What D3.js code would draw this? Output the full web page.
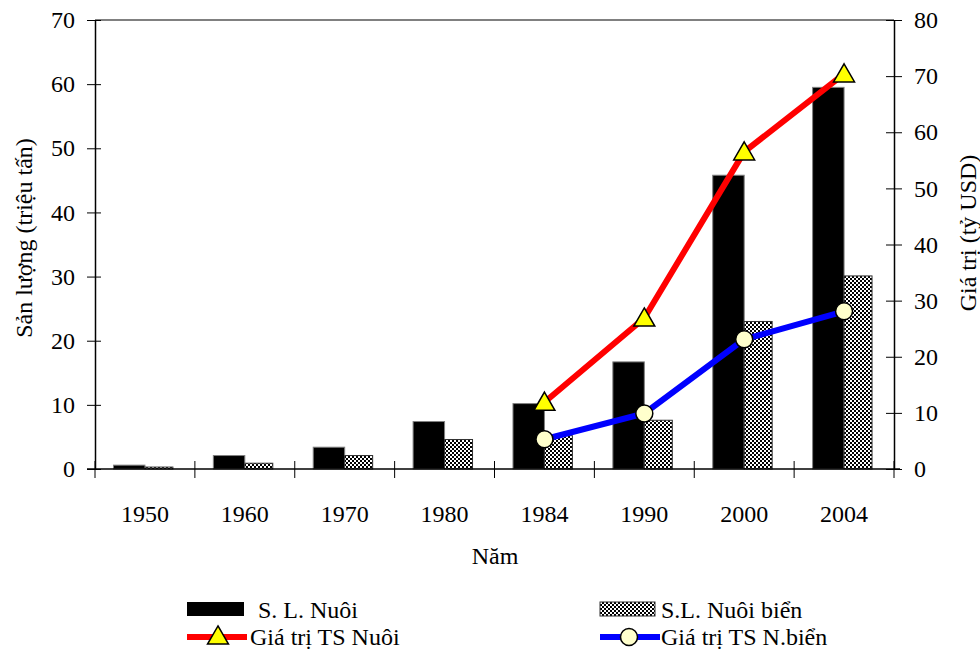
<!DOCTYPE html>
<html>
<head>
<meta charset="utf-8">
<script src="https://cdn.jsdelivr.net/npm/d3@7"></script>
</head>
<body style="margin:0;background:#fff">
<svg id="chart" width="980" height="651" font-family="Liberation Serif"></svg>
<script>
// Sản lượng nuôi trồng thủy sản (triệu tấn) và giá trị (tỷ USD)
const years = ["1950", "1960", "1970", "1980", "1984", "1990", "2000", "2004"];
const slNuoi = [0.6, 2.1, 3.4, 7.4, 10.2, 16.7, 45.8, 59.5];
const slNuoiBien = [0.3, 0.9, 2.1, 4.6, 5.2, 7.6, 23.0, 30.1];
const valueYears = ["1984", "1990", "2000", "2004"];
const gtNuoi = [11.9, 26.9, 56.5, 70.4];
const gtNuoiBien = [5.3, 9.9, 23.1, 28.1];
const leftTicks = [0, 10, 20, 30, 40, 50, 60, 70];
const rightTicks = [0, 10, 20, 30, 40, 50, 60, 70, 80];

const FONT = "Liberation Serif";
const svg = d3.select("#chart");
const plot = { left: 95, right: 894, top: 20, bottom: 469 };

const x = d3.scaleBand().domain(years).range([plot.left, plot.right]);
const yL = d3.scaleLinear().domain([0, 70]).range([plot.bottom, plot.top]);
const yR = d3.scaleLinear().domain([0, 80]).range([plot.bottom, plot.top]);
const bw = x.bandwidth();

// checkerboard fill for the sea-farming bars
const defs = svg.append("defs");
const pat = defs.append("pattern").attr("id", "checker")
  .attr("patternUnits", "userSpaceOnUse").attr("width", 4).attr("height", 4);
pat.append("rect").attr("width", 4).attr("height", 4).attr("fill", "#fff");
pat.append("rect").attr("width", 2).attr("height", 2).attr("fill", "#000");
pat.append("rect").attr("x", 2).attr("y", 2).attr("width", 2).attr("height", 2).attr("fill", "#000");

// plot frame top edge
svg.append("line")
  .attr("x1", plot.left).attr("x2", plot.right)
  .attr("y1", plot.top).attr("y2", plot.top)
  .attr("stroke", "#808080").attr("stroke-width", 2);

// bars
svg.append("g").selectAll("rect").data(years).join("rect")
  .attr("x", d => x(d) + bw * 0.185)
  .attr("width", bw * 0.315)
  .attr("y", (d, i) => yL(slNuoi[i]))
  .attr("height", (d, i) => yL(0) - yL(slNuoi[i]))
  .attr("fill", "#000").attr("stroke", "#808080").attr("stroke-width", 1);

svg.append("g").selectAll("rect").data(years).join("rect")
  .attr("x", d => x(d) + bw * 0.5)
  .attr("width", bw * 0.28)
  .attr("y", (d, i) => yL(slNuoiBien[i]))
  .attr("height", (d, i) => yL(0) - yL(slNuoiBien[i]))
  .attr("fill", "url(#checker)").attr("stroke", "#333").attr("stroke-width", 1);

// axes
const axisL = d3.axisLeft(yL).tickValues(leftTicks).tickSizeInner(8).tickSizeOuter(0).tickPadding(12);
const gL = svg.append("g").attr("transform", `translate(${plot.left},0)`).call(axisL);
const axisR = d3.axisRight(yR).tickValues(rightTicks).tickSizeInner(8).tickSizeOuter(0).tickPadding(12);
const gR = svg.append("g").attr("transform", `translate(${plot.right},0)`).call(axisR);
const axisB = d3.axisBottom(x).tickSize(0).tickPadding(36);
const gB = svg.append("g").attr("transform", `translate(0,${plot.bottom})`).call(axisB);

[gL, gR, gB].forEach(g => {
  g.attr("font-family", FONT).attr("font-size", 24);
  g.select(".domain").attr("stroke", "#000").attr("stroke-width", 1.5);
  g.selectAll("text").attr("fill", "#000");
});
// ticks cross the axis lines
gL.selectAll(".tick line").attr("x1", 6).attr("x2", -8).attr("stroke", "#000");
gR.selectAll(".tick line").attr("x1", -8).attr("x2", 8).attr("stroke", "#000");
gB.select(".domain").attr("d", `M${plot.left - 8},0H${plot.right + 6}`);
// category separators on the x axis
svg.append("g").selectAll("line").data(years.concat(["end"])).join("line")
  .attr("x1", (d, i) => plot.left + i * bw).attr("x2", (d, i) => plot.left + i * bw)
  .attr("y1", plot.bottom - 8).attr("y2", plot.bottom + 9)
  .attr("stroke", "#000").attr("stroke-width", 1);

// axis titles
svg.append("text").attr("transform", "translate(32,238) rotate(-90)")
  .attr("text-anchor", "middle").attr("font-size", 24).text("Sản lượng (triệu tấn)");
svg.append("text").attr("transform", "translate(976,233) rotate(-90)")
  .attr("text-anchor", "middle").attr("font-size", 24).text("Giá trị (tỷ USD)");
svg.append("text").attr("x", 495).attr("y", 564)
  .attr("text-anchor", "middle").attr("font-size", 24).text("Năm");

// value lines
const cx = d => x(d) + bw / 2;
const triangle = d3.symbol().type(d3.symbolTriangle).size(190);

const lineGen = d3.line().x(d => cx(d[0])).y(d => yR(d[1]));
const ptsNuoi = valueYears.map((d, i) => [d, gtNuoi[i]]);
const ptsBien = valueYears.map((d, i) => [d, gtNuoiBien[i]]);

svg.append("path").datum(ptsBien).attr("d", lineGen)
  .attr("fill", "none").attr("stroke", "#0000ff").attr("stroke-width", 6);
svg.append("path").datum(ptsNuoi).attr("d", lineGen)
  .attr("fill", "none").attr("stroke", "#ff0000").attr("stroke-width", 6);

svg.append("g").selectAll("path").data(ptsNuoi).join("path")
  .attr("d", triangle)
  .attr("transform", d => `translate(${cx(d[0])},${yR(d[1]) + 2})`)
  .attr("fill", "#ffff00").attr("stroke", "#000").attr("stroke-width", 1.5);
svg.append("g").selectAll("circle").data(ptsBien).join("circle")
  .attr("cx", d => cx(d[0])).attr("cy", d => yR(d[1])).attr("r", 8.5)
  .attr("fill", "#ffffcc").attr("stroke", "#000").attr("stroke-width", 1.5);

// legend
const lg = svg.append("g").attr("font-size", 24);
lg.append("rect").attr("x", 187).attr("y", 602).attr("width", 57).attr("height", 14).attr("fill", "#000");
lg.append("text").attr("x", 258).attr("y", 618).text("S. L. Nuôi");
lg.append("rect").attr("x", 600).attr("y", 602).attr("width", 55).attr("height", 14)
  .attr("fill", "url(#checker)").attr("stroke", "#333").attr("stroke-width", 1);
lg.append("text").attr("x", 661).attr("y", 618).text("S.L. Nuôi biển");

lg.append("line").attr("x1", 187).attr("x2", 247).attr("y1", 637).attr("y2", 637)
  .attr("stroke", "#ff0000").attr("stroke-width", 6);
lg.append("path").attr("d", triangle).attr("transform", "translate(218,638)")
  .attr("fill", "#ffff00").attr("stroke", "#000").attr("stroke-width", 1.5);
lg.append("text").attr("x", 250).attr("y", 645).text("Giá trị TS Nuôi");

lg.append("line").attr("x1", 600).attr("x2", 660).attr("y1", 637).attr("y2", 637)
  .attr("stroke", "#0000ff").attr("stroke-width", 6);
lg.append("circle").attr("cx", 629).attr("cy", 637).attr("r", 8.5)
  .attr("fill", "#ffffcc").attr("stroke", "#000").attr("stroke-width", 1.5);
lg.append("text").attr("x", 661).attr("y", 645).text("Giá trị TS N.biển");
</script>
</body>
</html>
